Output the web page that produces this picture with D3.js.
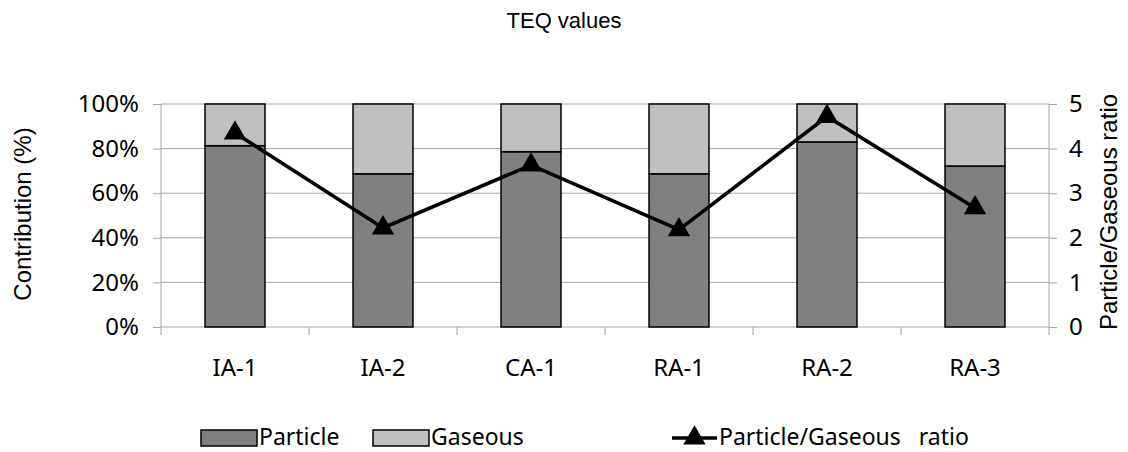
<!DOCTYPE html>
<html>
<head>
<meta charset="utf-8">
<script src="https://cdn.jsdelivr.net/npm/d3@7"></script>
<style>
  html, body { margin: 0; padding: 0; background: #fff; }
  svg { display: block; }
  .tick text { fill: #000; }
</style>
</head>
<body>
<svg id="chart" width="1128" height="452"></svg>
<script>
// Sampling sites
const categories = ["IA-1", "IA-2", "CA-1", "RA-1", "RA-2", "RA-3"];
// Share of TEQ in particle phase (%)
const particle = [81.3, 68.7, 78.6, 68.7, 83.0, 72.2];
// Share of TEQ in gas phase (%)
const gaseous = [18.7, 31.3, 21.4, 31.3, 17.0, 27.8];
// Particle/Gaseous ratio (right axis)
const ratio = [4.35, 2.22, 3.63, 2.18, 4.72, 2.67];
const leftTicks = [0, 20, 40, 60, 80, 100];
const rightTicks = [0, 1, 2, 3, 4, 5];

const svg = d3.select("#chart");
const m = { left: 161, right: 1049, top: 104, bottom: 327 };
const uiFont = "'Noto Sans', 'Open Sans', sans-serif";
const titleFont = "'Liberation Sans', Arial, sans-serif";
const axisGrey = "#a6a6a6";

const x = d3.scaleBand().domain(categories).range([m.left, m.right]).paddingInner(0.595).paddingOuter(0.2975);
const xOuter = d3.scaleBand().domain(categories).range([m.left, m.right]);
const yL = d3.scaleLinear().domain([0, 100]).range([m.bottom, m.top]);
const yR = d3.scaleLinear().domain([0, 5]).range([m.bottom, m.top]);

// Title
svg.append("text").attr("x", 564).attr("y", 28).attr("text-anchor", "middle")
  .style("font-family", titleFont).style("font-size", "22px").text("TEQ values");

// Horizontal gridlines
svg.append("g").selectAll("line").data(leftTicks.filter(d => d > 0)).join("line")
  .attr("x1", m.left).attr("x2", m.right)
  .attr("y1", d => yL(d)).attr("y2", d => yL(d))
  .attr("stroke", axisGrey).attr("stroke-width", 1);

// Left axis
const gL = svg.append("g").attr("transform", `translate(${m.left},0)`)
  .call(d3.axisLeft(yL).tickValues(leftTicks).tickFormat(d => d + "%").tickSize(8).tickPadding(14));
gL.selectAll("path, line").attr("stroke", axisGrey);
gL.select(".domain").attr("d", `M0,${m.bottom}V${m.top}`);
gL.selectAll("text").style("font-family", uiFont).style("font-size", "24px");

// Right axis
const gR = svg.append("g").attr("transform", `translate(${m.right},0)`)
  .call(d3.axisRight(yR).tickValues(rightTicks).tickFormat(d3.format("d")).tickSize(8).tickPadding(12));
gR.selectAll("path, line").attr("stroke", axisGrey);
gR.select(".domain").attr("d", `M0,${m.bottom}V${m.top}`);
gR.selectAll("text").style("font-family", uiFont).style("font-size", "24px");

// Bottom axis: category boundaries as ticks
const gB = svg.append("g");
gB.append("line").attr("x1", m.left).attr("x2", m.right).attr("y1", m.bottom).attr("y2", m.bottom)
  .attr("stroke", axisGrey);
gB.selectAll("line.tk").data(categories.concat(["end"])).join("line").attr("class", "tk")
  .attr("x1", (d, i) => i < categories.length ? xOuter(d) : m.right)
  .attr("x2", (d, i) => i < categories.length ? xOuter(d) : m.right)
  .attr("y1", m.bottom).attr("y2", m.bottom + 8).attr("stroke", axisGrey);
gB.selectAll("text").data(categories).join("text")
  .attr("x", d => xOuter(d) + xOuter.bandwidth() / 2).attr("y", 376)
  .attr("text-anchor", "middle").style("font-family", uiFont).style("font-size", "24px")
  .text(d => d);

// Stacked bars
const rows = categories.map((c, i) => ({ cat: c, particle: particle[i], gaseous: gaseous[i] }));
const stack = d3.stack().keys(["particle", "gaseous"])(rows);
const fills = { particle: "#808080", gaseous: "#c0c0c0" };
svg.append("g").selectAll("g").data(stack).join("g")
  .attr("fill", d => fills[d.key])
  .selectAll("rect").data(d => d).join("rect")
  .attr("x", d => x(d.data.cat))
  .attr("width", x.bandwidth())
  .attr("y", d => yL(d[1]))
  .attr("height", d => yL(d[0]) - yL(d[1]))
  .attr("stroke", "#000").attr("stroke-width", 1.5);

// Ratio line with triangle markers
const cx = c => xOuter(c) + xOuter.bandwidth() / 2;
const line = d3.line().x((d, i) => cx(categories[i])).y(d => yR(d));
svg.append("path").datum(ratio).attr("d", line)
  .attr("fill", "none").attr("stroke", "#000").attr("stroke-width", 3.6);
const tri = d3.symbol().type(d3.symbolTriangle).size(215);
svg.append("g").selectAll("path").data(ratio).join("path")
  .attr("transform", (d, i) => `translate(${cx(categories[i])},${yR(d)})`)
  .attr("d", tri).attr("fill", "#000");

// Axis titles
svg.append("text").attr("transform", "translate(31,214) rotate(-90)").attr("text-anchor", "middle")
  .style("font-family", titleFont).style("font-size", "24px").text("Contribution (%)");
svg.append("text").attr("transform", "translate(1117,212) rotate(-90)").attr("text-anchor", "middle")
  .style("font-family", titleFont).style("font-size", "24px").text("Particle/Gaseous ratio");

// Legend
const lg = svg.append("g");
const legY = 438;
[["particle", "Particle", 201], ["gaseous", "Gaseous", 373]].forEach(([k, label, lx]) => {
  lg.append("rect").attr("x", lx).attr("y", legY - 8).attr("width", 56).attr("height", 16)
    .attr("fill", fills[k]).attr("stroke", "#000").attr("stroke-width", 1.5);
  lg.append("text").attr("x", lx + 58).attr("y", legY + 7)
    .style("font-family", uiFont).style("font-size", "23px").text(label);
});
lg.append("line").attr("x1", 672).attr("x2", 717).attr("y1", legY).attr("y2", legY)
  .attr("stroke", "#000").attr("stroke-width", 3.6);
lg.append("path").attr("transform", `translate(694.5,${legY})`).attr("d", tri).attr("fill", "#000");
lg.append("text").attr("x", 719).attr("y", legY + 7).attr("xml:space", "preserve")
  .style("white-space", "pre")
  .style("font-family", uiFont).style("font-size", "23px").text("Particle/Gaseous   ratio");
</script>
</body>
</html>
